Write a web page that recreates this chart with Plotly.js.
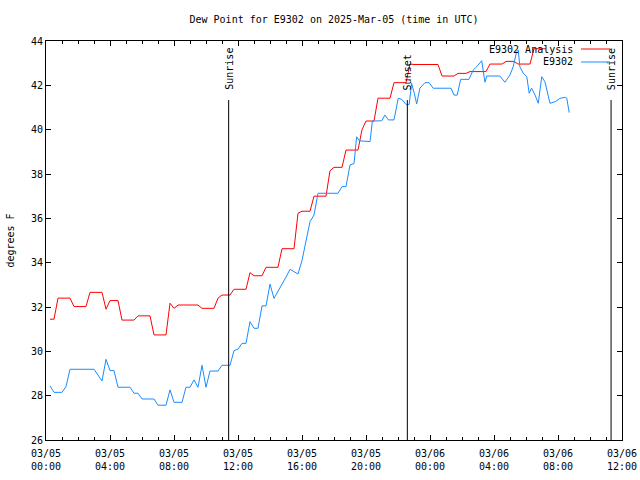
<!DOCTYPE html>
<html>
<head>
<meta charset="utf-8">
<script src="https://cdn.plot.ly/plotly-3.0.1.min.js"></script>
<style>html,body{margin:0;padding:0;background:#fff;}#chart{width:640px;height:480px;}</style>
</head>
<body>
<div id="chart"></div>
<script>
// ---- data ----
var analysisTimes = [
 "2025-03-05 00:15","2025-03-05 00:30","2025-03-05 00:45","2025-03-05 01:30","2025-03-05 01:45",
 "2025-03-05 02:30","2025-03-05 02:45","2025-03-05 03:30","2025-03-05 03:45","2025-03-05 04:00",
 "2025-03-05 04:30","2025-03-05 04:45","2025-03-05 05:30","2025-03-05 05:45","2025-03-05 06:30",
 "2025-03-05 06:45","2025-03-05 07:30","2025-03-05 07:45","2025-03-05 08:00","2025-03-05 08:15",
 "2025-03-05 09:30","2025-03-05 09:45","2025-03-05 10:30","2025-03-05 10:45","2025-03-05 11:00",
 "2025-03-05 11:30","2025-03-05 11:45","2025-03-05 12:30","2025-03-05 12:45","2025-03-05 13:00",
 "2025-03-05 13:30","2025-03-05 13:45","2025-03-05 14:30","2025-03-05 14:45","2025-03-05 15:30",
 "2025-03-05 15:45","2025-03-05 16:00","2025-03-05 16:30","2025-03-05 16:45","2025-03-05 17:30",
 "2025-03-05 17:45","2025-03-05 18:00","2025-03-05 18:30","2025-03-05 18:45","2025-03-05 19:30",
 "2025-03-05 19:45","2025-03-05 20:00","2025-03-05 20:30","2025-03-05 20:45","2025-03-05 21:30",
 "2025-03-05 21:45","2025-03-05 22:30","2025-03-05 22:45","2025-03-05 23:00","2025-03-06 00:30",
 "2025-03-06 00:45","2025-03-06 01:30","2025-03-06 01:45","2025-03-06 02:15","2025-03-06 02:30",
 "2025-03-06 03:30","2025-03-06 03:45","2025-03-06 04:30","2025-03-06 04:45","2025-03-06 05:15",
 "2025-03-06 05:30","2025-03-06 06:15","2025-03-06 06:30","2025-03-06 07:15"
];
var analysisValues = [
 31.45,31.45,32.40,32.40,32.02,
 32.02,32.66,32.66,31.90,32.29,
 32.29,31.41,31.41,31.60,31.60,
 30.74,30.74,32.17,31.94,32.09,
 32.09,31.94,31.94,32.40,32.54,
 32.54,32.80,32.80,33.55,33.41,
 33.41,33.79,33.79,34.63,34.63,
 36.23,36.32,36.32,37.00,37.00,
 38.15,38.30,38.30,39.08,39.08,
 40.00,40.39,40.39,41.42,41.42,
 42.12,42.12,42.96,42.94,42.94,
 42.42,42.42,42.54,42.54,42.62,
 42.62,42.96,42.96,43.08,43.08,
 42.96,42.96,43.65,43.65
];
var obsTimes = [
 "2025-03-05 00:15","2025-03-05 00:30","2025-03-05 01:00","2025-03-05 01:15","2025-03-05 01:30",
 "2025-03-05 03:00","2025-03-05 03:15","2025-03-05 03:30","2025-03-05 03:45","2025-03-05 04:00",
 "2025-03-05 04:15","2025-03-05 04:30","2025-03-05 05:15","2025-03-05 05:30","2025-03-05 05:45",
 "2025-03-05 06:00","2025-03-05 06:45","2025-03-05 07:00","2025-03-05 07:30","2025-03-05 07:45",
 "2025-03-05 08:00","2025-03-05 08:30","2025-03-05 08:45","2025-03-05 09:00","2025-03-05 09:15",
 "2025-03-05 09:30","2025-03-05 09:45","2025-03-05 10:00","2025-03-05 10:15","2025-03-05 10:45",
 "2025-03-05 11:00","2025-03-05 11:30","2025-03-05 11:45","2025-03-05 12:00","2025-03-05 12:15",
 "2025-03-05 12:30","2025-03-05 12:45","2025-03-05 13:00","2025-03-05 13:15","2025-03-05 13:30",
 "2025-03-05 13:45","2025-03-05 14:00","2025-03-05 14:15","2025-03-05 14:30","2025-03-05 14:45",
 "2025-03-05 15:00","2025-03-05 15:15","2025-03-05 15:45","2025-03-05 16:00","2025-03-05 16:15",
 "2025-03-05 16:30","2025-03-05 16:45","2025-03-05 17:00","2025-03-05 18:15","2025-03-05 18:30",
 "2025-03-05 18:45","2025-03-05 19:00","2025-03-05 19:15","2025-03-05 19:25","2025-03-05 19:35",
 "2025-03-05 20:15","2025-03-05 20:24","2025-03-05 20:59","2025-03-05 21:11","2025-03-05 21:24",
 "2025-03-05 21:45","2025-03-05 22:01","2025-03-05 22:14","2025-03-05 22:30","2025-03-05 22:42",
 "2025-03-05 22:51","2025-03-05 23:01","2025-03-05 23:10","2025-03-05 23:22","2025-03-05 23:41",
 "2025-03-05 23:57","2025-03-06 00:12","2025-03-06 01:19","2025-03-06 01:30","2025-03-06 01:42",
 "2025-03-06 01:55","2025-03-06 02:26","2025-03-06 02:42","2025-03-06 02:55","2025-03-06 03:14",
 "2025-03-06 03:26","2025-03-06 03:33","2025-03-06 04:22","2025-03-06 04:41","2025-03-06 05:00",
 "2025-03-06 05:12","2025-03-06 05:25","2025-03-06 05:31","2025-03-06 05:37","2025-03-06 05:50",
 "2025-03-06 06:03","2025-03-06 06:12","2025-03-06 06:21","2025-03-06 06:34","2025-03-06 06:46",
 "2025-03-06 06:59","2025-03-06 07:11","2025-03-06 07:30","2025-03-06 07:49","2025-03-06 08:07",
 "2025-03-06 08:26","2025-03-06 08:33","2025-03-06 08:42"
];
var obsValues = [
 28.44,28.15,28.15,28.41,29.19,
 29.19,28.93,28.66,29.64,29.13,
 29.13,28.38,28.38,28.11,28.11,
 27.85,27.85,27.57,27.57,28.26,
 27.70,27.70,28.38,28.38,28.71,
 28.38,29.37,28.38,29.11,29.11,
 29.37,29.37,30.03,30.10,30.36,
 30.36,31.34,31.04,31.04,32.05,
 32.05,33.03,32.39,32.70,33.00,
 33.35,33.70,33.49,34.10,35.00,
 35.85,36.15,37.13,37.13,37.43,
 37.43,38.41,38.47,39.68,39.50,
 39.46,40.39,40.40,40.66,40.44,
 40.44,41.42,41.37,41.14,41.14,
 42.09,41.64,41.16,41.87,42.12,
 42.12,41.87,41.87,41.56,41.56,
 42.27,42.27,42.69,42.84,43.11,
 42.14,42.42,42.42,42.14,42.47,
 42.84,43.52,43.59,42.84,42.54,
 42.39,41.64,41.87,41.56,41.19,
 42.39,42.16,41.19,41.26,41.41,
 41.46,41.41,40.77
];
var sunEventTimes = ["2025-03-05 11:25","2025-03-05 22:35","2025-03-06 11:19"];
var sunEventLabels = ["Sunrise","Sunset","Sunrise"];
var tickTimes = ["2025-03-05 00:00","2025-03-05 04:00","2025-03-05 08:00","2025-03-05 12:00","2025-03-05 16:00",
 "2025-03-05 20:00","2025-03-06 00:00","2025-03-06 04:00","2025-03-06 08:00","2025-03-06 12:00"];
var tickLabels = ["03/05<br>00:00","03/05<br>04:00","03/05<br>08:00","03/05<br>12:00","03/05<br>16:00",
 "03/05<br>20:00","03/06<br>00:00","03/06<br>04:00","03/06<br>08:00","03/06<br>12:00"];
var seriesNames = ["E9302 Analysis","E9302"];
var seriesColors = ["#ff0000","#1a8cff"];

// ---- chart ----
var FONT = {family: "DejaVu Sans Mono, monospace", size: 10, color: "#000"};
var traces = [
 {x: analysisTimes, y: analysisValues, type: "scatter", mode: "lines", name: seriesNames[0],
  line: {color: seriesColors[0], width: 1}, showlegend: false},
 {x: obsTimes, y: obsValues, type: "scatter", mode: "lines", name: seriesNames[1],
  line: {color: seriesColors[1], width: 1}, showlegend: false}
];

var shapes = [];
var annotations = [];
sunEventTimes.forEach(function (t, i) {
  shapes.push({type: "line", xref: "x", yref: "paper", x0: t, x1: t, y0: 0, y1: 0.852,
    line: {color: "#000", width: 1}});
  annotations.push({text: sunEventLabels[i], xref: "x", yref: "paper", x: t, y: 0.872,
    textangle: -90, xanchor: "center", yanchor: "bottom", showarrow: false, font: FONT});
});
// key (gnuplot style: text then sample line)
seriesNames.forEach(function (n, i) {
  var yy = 1 - (8 + 13 * i) / 399;
  annotations.push({text: n, xref: "paper", yref: "paper", x: (575 - 46) / 576, y: yy,
    xanchor: "right", yanchor: "middle", showarrow: false, font: FONT});
  shapes.push({type: "line", xref: "paper", yref: "paper", x0: (581 - 46) / 576, x1: (610 - 46) / 576,
    y0: yy, y1: yy, line: {color: seriesColors[i], width: 1}});
});

var layout = {
  width: 640, height: 480,
  margin: {l: 46, r: 18, t: 41, b: 40, pad: 0},
  paper_bgcolor: "#fff", plot_bgcolor: "#fff",
  font: FONT,
  title: {text: "Dew Point for E9302 on 2025-Mar-05 (time in UTC)", font: FONT,
    x: 0.5, xref: "paper", xanchor: "center", y: 1 - 19 / 480, yref: "container", yanchor: "middle"},
  xaxis: {type: "date", range: ["2025-03-05 00:00", "2025-03-06 12:00"],
    tickmode: "array", tickvals: tickTimes, ticktext: tickLabels,
    ticks: "inside", ticklen: 5, tickwidth: 1, tickcolor: "#000", ticklabelstandoff: 4,
    minor: {dtick: 3600000, tick0: "2025-03-05 00:00", ticks: "inside", ticklen: 3, tickcolor: "#000", showgrid: false},
    showgrid: false, zeroline: false, showline: true, linecolor: "#000", linewidth: 1, mirror: "ticks",
    tickfont: FONT, fixedrange: true},
  yaxis: {range: [26, 44], dtick: 2, tick0: 26,
    ticks: "inside", ticklen: 5, tickwidth: 1, tickcolor: "#000",
    showgrid: false, zeroline: false, showline: true, linecolor: "#000", linewidth: 1, mirror: "ticks",
    tickfont: FONT, title: {text: "degrees F", font: FONT, standoff: 14}, fixedrange: true},
  shapes: shapes,
  annotations: annotations,
  showlegend: false
};

Plotly.newPlot("chart", traces, layout, {staticPlot: true, displayModeBar: false});
</script>
</body>
</html>
